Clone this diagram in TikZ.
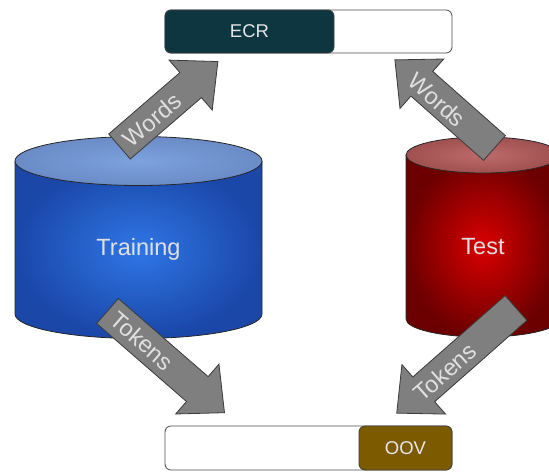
\documentclass[tikz,border=0pt]{standalone}
\usepackage{fontspec}
\setmainfont{Liberation Sans}
\usetikzlibrary{calc}

\definecolor{ecrfill}{HTML}{0E3640}
\definecolor{oovfill}{HTML}{7B5A00}
\definecolor{bartext}{HTML}{E6E6E6}
\definecolor{arrowgray}{HTML}{7F7F7F}
\definecolor{arrowedge}{HTML}{3A3A3A}
\definecolor{labelgray}{HTML}{E0E0E0}
\definecolor{trainin}{HTML}{2F76E6}
\definecolor{trainout}{HTML}{1A47A8}
\definecolor{traintopin}{HTML}{7DA2DE}
\definecolor{traintopout}{HTML}{6A8BC6}
\definecolor{testin}{HTML}{DA0000}
\definecolor{testout}{HTML}{6C0000}
\definecolor{testtopin}{HTML}{BE6A6A}
\definecolor{testtopout}{HTML}{A05050}

\tikzset{
  bar/.style={draw=black!70, line width=0.8pt, rounded corners=6pt, fill=white},
  barpart/.style={draw=black!75, line width=0.8pt, rounded corners=6pt},
  bigtext/.style={font=\fontsize{23.5}{28}\selectfont, text=labelgray, inner sep=0pt},
  bartxt/.style={font=\fontsize{18.5}{22}\selectfont, text=bartext, inner sep=0pt},
  arrowbody/.style={fill=arrowgray, draw=arrowedge, line width=0.8pt, line join=miter},
  cylline/.style={draw=black!85, line width=0.8pt},
}

% block arrow: base point, direction angle, total length
\newcommand{\blockarrow}[3]{%
  \begin{scope}[shift={#1}, rotate=#2]
    \draw[arrowbody] (0,-16.5) -- ({#3-36},-16.5) -- ({#3-36},-33) -- (#3,0)
      -- ({#3-36},33) -- ({#3-36},16.5) -- (0,16.5) -- cycle;
  \end{scope}}

\begin{document}
\begin{tikzpicture}[x=1pt, y=-1pt]
\useasboundingbox (0,0) rectangle (549,472);
\clip (0,0) rectangle (549,472);

% Training cylinder
\path[shading=radial, inner color=trainin, outer color=trainout]
  (15,161) -- (15,314) arc[start angle=180, end angle=360, x radius=123.5, y radius=-24.5]
  -- (262,161) -- cycle;
\draw[cylline] (15,161) -- (15,314) arc[start angle=180, end angle=360, x radius=123.5, y radius=-24.5] -- (262,161);
\path[shading=radial, inner color=traintopin, outer color=traintopout]
  (138.5,161) ellipse[x radius=123.5, y radius=24.5];
\draw[cylline] (138.5,161) ellipse[x radius=123.5, y radius=24.5];
\node[bigtext] (training) at (138.5,249) {Training};

% Test cylinder
\path[shading=radial, inner color=testin, outer color=testout]
  (406,155) -- (406,319) arc[start angle=180, end angle=360, x radius=77, y radius=-18]
  -- (560,155) -- cycle;
\draw[cylline] (406,155) -- (406,319) arc[start angle=180, end angle=360, x radius=77, y radius=-18] -- (560,155);
\path[shading=radial, inner color=testtopin, outer color=testtopout]
  (483,155) ellipse[x radius=77, y radius=18];
\draw[cylline] (483,155) ellipse[x radius=77, y radius=18];
\node[bigtext] (test) at (483,247) {Test};

% ECR bar
\draw[bar] (165,10) rectangle (452,53);
\draw[barpart, fill=ecrfill] (165,10) rectangle (334,53);
\node[bartxt] (ecr) at (249.5,31.5) {ECR};
\coordinate (ecrbar) at (308.5,31.5);

% OOV bar
\draw[bar] (165,426) rectangle (452,470);
\draw[barpart, fill=oovfill] (359,426) rectangle (452,470);
\node[bartxt] (oov) at (405.5,448) {OOV};
\coordinate (oovbar) at (308.5,448);

% block arrows with their labels
\blockarrow{(119.5,146.5)}{40.8}{130}
\node[bigtext, rotate=40.8] (w1) at (152,120) {Words};

\blockarrow{(494.5,148)}{138.5}{133}
\node[bigtext, rotate=-41.5] (w2) at (437,100) {Words};

\blockarrow{(107.5,311)}{-41}{155}
\node[bigtext, rotate=-41] (t1) at (142,341) {Tokens};

\blockarrow{(516,308)}{221.4}{159}
\node[bigtext, rotate=41.4] (t2) at (445,372) {Tokens};
\end{tikzpicture}
\end{document}
